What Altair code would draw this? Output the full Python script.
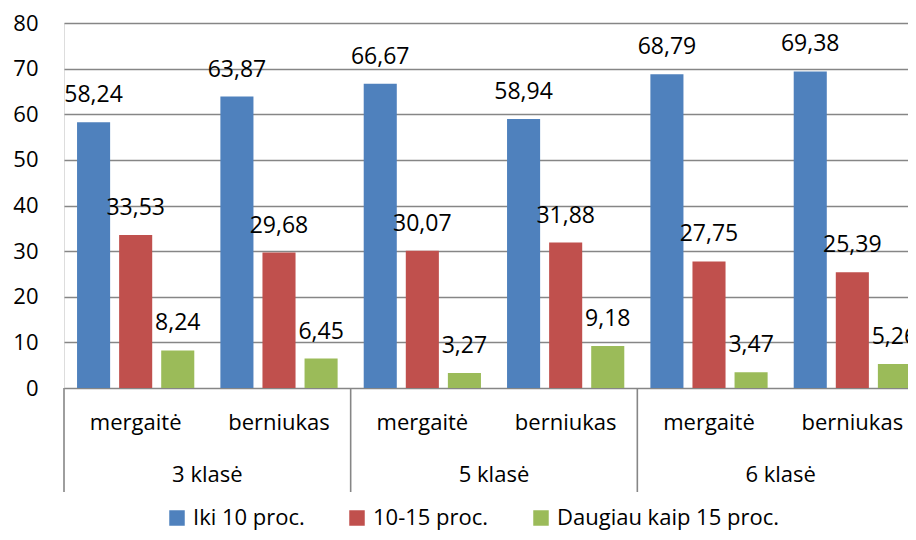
import altair as alt
import pandas as pd

groups = ["3 klasė", "5 klasė", "6 klasė"]
genders = ["mergaitė", "berniukas"]
series = ["Iki 10 proc.", "10-15 proc.", "Daugiau kaip 15 proc."]
colors = ["#4F81BD", "#C0504D", "#9BBB59"]

iki10 = [58.24, 63.87, 66.67, 58.94, 68.79, 69.38]
p10_15 = [33.53, 29.68, 30.07, 31.88, 27.75, 25.39]
virs15 = [8.24, 6.45, 3.27, 9.18, 3.47, 5.26]

FONT = "Open Sans"

subs = [f"{g}|{s}" for g in groups for s in genders]
rows = []
for i, sub in enumerate(subs):
    for name, vals in zip(series, [iki10, p10_15, virs15]):
        rows.append({"sub": sub, "series": name, "value": vals[i]})
df = pd.DataFrame(rows)

sub_df = pd.DataFrame({"sub": subs, "label": [s.split("|")[1] for s in subs]})
grp_df = pd.DataFrame({"sub": [f"{g}|{genders[0]}" for g in groups], "label": groups})

x_enc = alt.X("sub:N", sort=subs, axis=None,
              scale=alt.Scale(range=[0, 860], paddingInner=0, paddingOuter=0))
xoff = alt.XOffset("series:N", sort=series,
                   scale=alt.Scale(paddingInner=0.214, paddingOuter=0.31))
y_enc = alt.Y("value:Q",
              scale=alt.Scale(domain=[0, 80], nice=False),
              axis=alt.Axis(values=list(range(0, 81, 10)), title=None, domain=False,
                            ticks=False, labelFontSize=22, labelFont=FONT,
                            labelColor="#000000", labelPadding=26,
                            gridColor="#868686", gridWidth=1.6))

bars = alt.Chart(df).mark_bar().encode(
    x=x_enc, xOffset=xoff, y=y_enc,
    color=alt.Color("series:N", sort=series,
                    scale=alt.Scale(domain=series, range=colors),
                    legend=alt.Legend(title=None, orient="none", direction="horizontal",
                                      legendX=102, legendY=484,
                                      symbolType="square", symbolSize=240,
                                      symbolStrokeWidth=0, labelFontSize=22,
                                      labelFont=FONT, labelColor="#000000",
                                      labelLimit=500,
                                      columnPadding=41, labelOffset=5))
)

labels = alt.Chart(df).transform_calculate(
    txt="replace(format(datum.value, '.2f'), '.', ',')"
).mark_text(font=FONT, fontSize=23, color="#000000", baseline="middle", dy=-27).encode(
    x=x_enc, xOffset=xoff, y=alt.Y("value:Q"), text="txt:N"
)

sub_text = alt.Chart(sub_df).mark_text(font=FONT, fontSize=22, color="#000000",
                                       baseline="middle").encode(
    x=alt.X("sub:N", sort=subs), y=alt.value(400), text="label:N"
)

grp_text = alt.Chart(grp_df).mark_text(font=FONT, fontSize=22, color="#000000",
                                       baseline="middle").encode(
    x=alt.X("sub:N", sort=subs, bandPosition=1), y=alt.value(452), text="label:N"
)

seps = alt.Chart(grp_df).mark_rule(color="#868686", strokeWidth=1.6).encode(
    x=alt.X("sub:N", sort=subs, bandPosition=0), y=alt.value(365), y2=alt.value(469)
)

chart = alt.layer(bars, labels, sub_text, grp_text, seps).properties(
    width=844, height=365,
    autosize=alt.AutoSizeParams(type="none"),
    padding={"left": 56, "top": 15, "right": 0, "bottom": 144},
).configure_view(stroke=None).configure(background="#ffffff")

chart.save("out.html", embed_options={"renderer": "svg", "actions": False})
